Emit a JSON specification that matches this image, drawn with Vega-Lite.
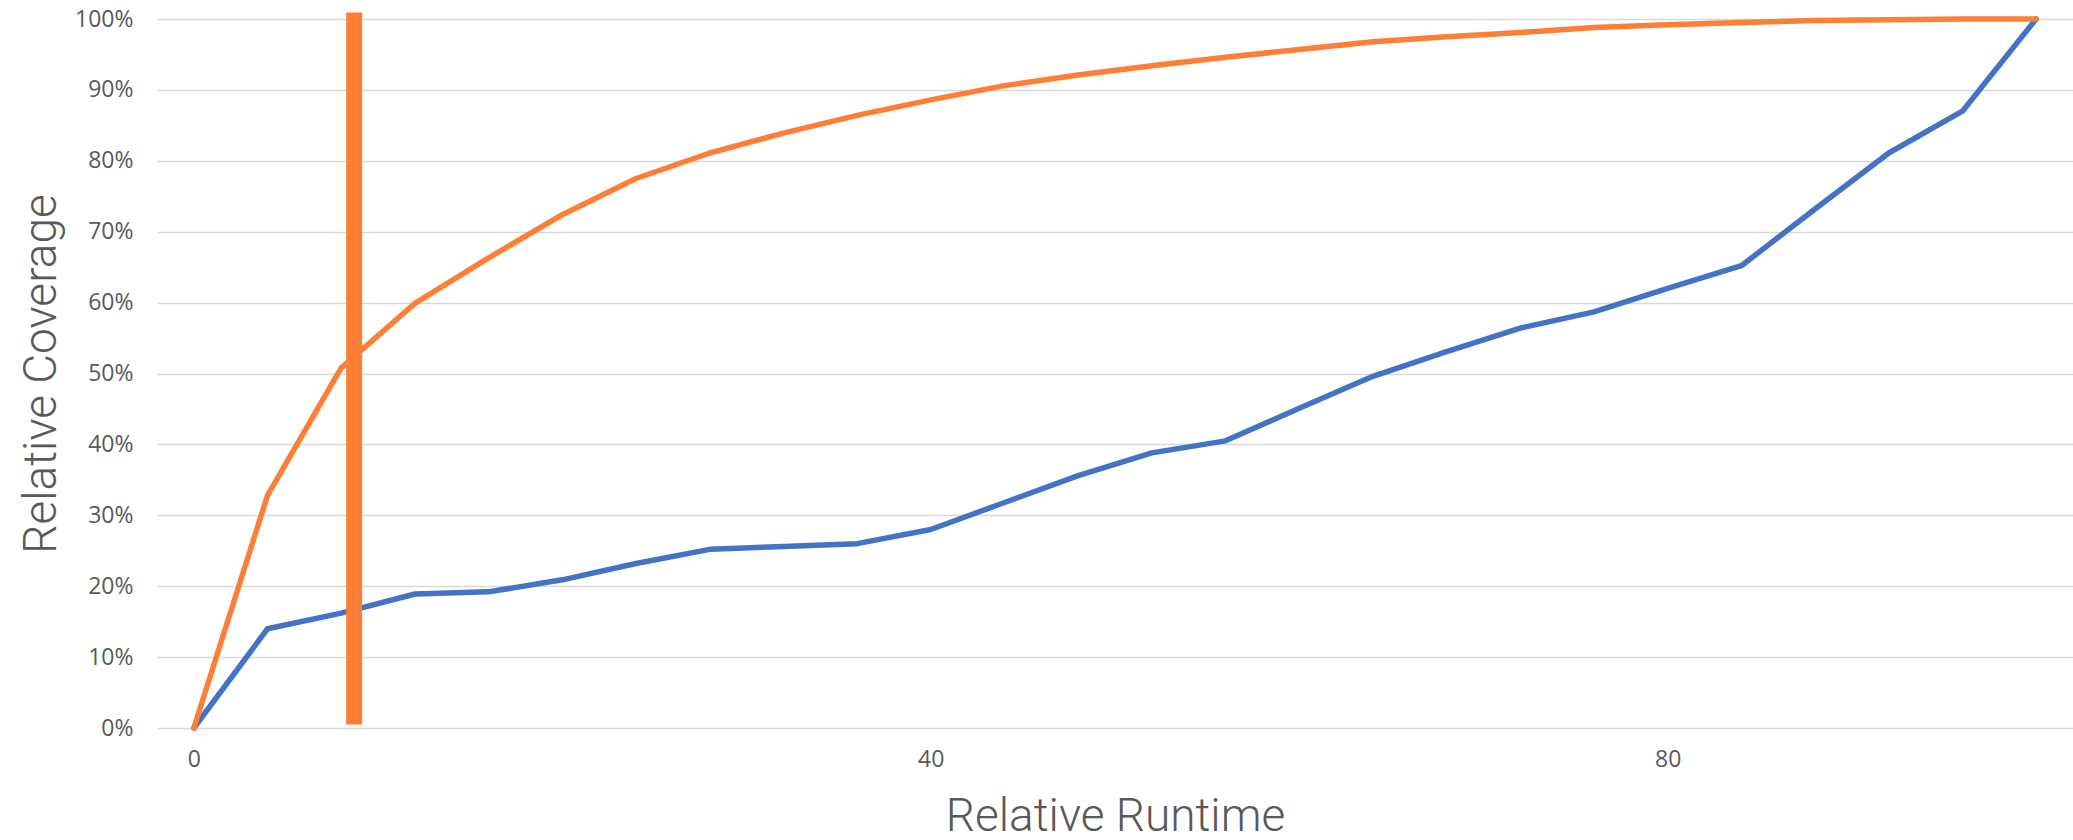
{
  "$schema": "https://vega.github.io/schema/vega-lite/v6.json",
  "autosize": "none",
  "width": 1916,
  "height": 709,
  "padding": {"left": 157, "top": 19, "right": 0, "bottom": 112},
  "background": "white",
  "config": {
    "view": {"stroke": null},
    "axis": {
      "labelFont": "Open Sans",
      "labelColor": "#595959",
      "labelFontSize": 23,
      "titleFont": "Roboto",
      "titleFontWeight": 300,
      "titleColor": "#595959",
      "titleFontSize": 46,
      "gridColor": "#D9D9D9",
      "gridWidth": 1.6,
      "domain": false,
      "ticks": false
    }
  },
  "datasets": {
    "series": [
      {"runtime": 0, "coverage": 0, "series": "A"},
      {"runtime": 4, "coverage": 0.140, "series": "A"},
      {"runtime": 8, "coverage": 0.162, "series": "A"},
      {"runtime": 12, "coverage": 0.189, "series": "A"},
      {"runtime": 16, "coverage": 0.192, "series": "A"},
      {"runtime": 20, "coverage": 0.209, "series": "A"},
      {"runtime": 24, "coverage": 0.232, "series": "A"},
      {"runtime": 28, "coverage": 0.252, "series": "A"},
      {"runtime": 32, "coverage": 0.256, "series": "A"},
      {"runtime": 36, "coverage": 0.260, "series": "A"},
      {"runtime": 40, "coverage": 0.280, "series": "A"},
      {"runtime": 44, "coverage": 0.318, "series": "A"},
      {"runtime": 48, "coverage": 0.356, "series": "A"},
      {"runtime": 52, "coverage": 0.388, "series": "A"},
      {"runtime": 56, "coverage": 0.405, "series": "A"},
      {"runtime": 60, "coverage": 0.451, "series": "A"},
      {"runtime": 64, "coverage": 0.496, "series": "A"},
      {"runtime": 68, "coverage": 0.531, "series": "A"},
      {"runtime": 72, "coverage": 0.564, "series": "A"},
      {"runtime": 76, "coverage": 0.587, "series": "A"},
      {"runtime": 80, "coverage": 0.620, "series": "A"},
      {"runtime": 84, "coverage": 0.652, "series": "A"},
      {"runtime": 88, "coverage": 0.732, "series": "A"},
      {"runtime": 92, "coverage": 0.811, "series": "A"},
      {"runtime": 96, "coverage": 0.870, "series": "A"},
      {"runtime": 100, "coverage": 1.0, "series": "A"},
      {"runtime": 0, "coverage": 0, "series": "B"},
      {"runtime": 4, "coverage": 0.328, "series": "B"},
      {"runtime": 8, "coverage": 0.508, "series": "B"},
      {"runtime": 12, "coverage": 0.599, "series": "B"},
      {"runtime": 16, "coverage": 0.663, "series": "B"},
      {"runtime": 20, "coverage": 0.724, "series": "B"},
      {"runtime": 24, "coverage": 0.775, "series": "B"},
      {"runtime": 28, "coverage": 0.811, "series": "B"},
      {"runtime": 32, "coverage": 0.839, "series": "B"},
      {"runtime": 36, "coverage": 0.864, "series": "B"},
      {"runtime": 40, "coverage": 0.886, "series": "B"},
      {"runtime": 44, "coverage": 0.906, "series": "B"},
      {"runtime": 48, "coverage": 0.921, "series": "B"},
      {"runtime": 52, "coverage": 0.934, "series": "B"},
      {"runtime": 56, "coverage": 0.946, "series": "B"},
      {"runtime": 60, "coverage": 0.957, "series": "B"},
      {"runtime": 64, "coverage": 0.968, "series": "B"},
      {"runtime": 68, "coverage": 0.975, "series": "B"},
      {"runtime": 72, "coverage": 0.981, "series": "B"},
      {"runtime": 76, "coverage": 0.988, "series": "B"},
      {"runtime": 80, "coverage": 0.992, "series": "B"},
      {"runtime": 84, "coverage": 0.995, "series": "B"},
      {"runtime": 88, "coverage": 0.998, "series": "B"},
      {"runtime": 92, "coverage": 0.999, "series": "B"},
      {"runtime": 96, "coverage": 1.0, "series": "B"},
      {"runtime": 100, "coverage": 1.0, "series": "B"}
    ],
    "marker": [
      {"runtime": 8.7, "low": 0.005, "high": 1.009}
    ]
  },
  "layer": [
    {
      "data": {"name": "series"},
      "mark": {"type": "line", "strokeWidth": 5.5, "strokeCap": "round", "strokeJoin": "round"},
      "encoding": {
        "x": {
          "field": "runtime", "type": "quantitative",
          "scale": {"domain": [-2, 102], "nice": false, "zero": false},
          "axis": {"values": [0, 40, 80], "grid": false, "title": "Relative Runtime", "labelPadding": 20,
                   "titleBaseline": "alphabetic", "titleY": 102}
        },
        "y": {
          "field": "coverage", "type": "quantitative",
          "scale": {"domain": [0, 1], "nice": false},
          "axis": {"values": [0, 0.1, 0.2, 0.3, 0.4, 0.5, 0.6, 0.7, 0.8, 0.9, 1.0], "format": ".0%",
                   "title": "Relative Coverage", "labelPadding": 24,
                   "titleBaseline": "alphabetic", "titleX": -102}
        },
        "color": {
          "field": "series", "type": "nominal",
          "scale": {"domain": ["A", "B"], "range": ["#4472C4", "#FD7E35"]},
          "legend": null
        },
        "order": {"field": "runtime", "type": "quantitative"}
      }
    },
    {
      "data": {"name": "marker"},
      "mark": {"type": "rule", "color": "#FD7E35", "strokeWidth": 16},
      "encoding": {
        "x": {"field": "runtime", "type": "quantitative"},
        "y": {"field": "low", "type": "quantitative"},
        "y2": {"field": "high"}
      }
    }
  ]
}
